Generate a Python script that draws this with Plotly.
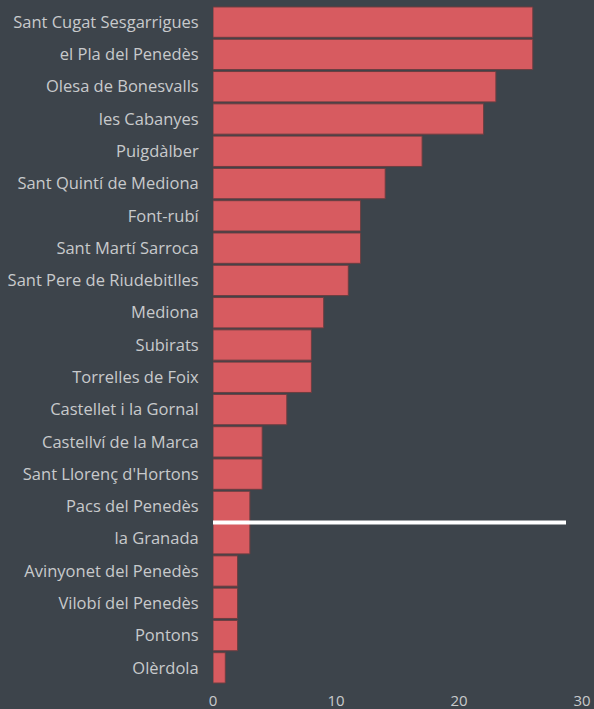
import plotly.graph_objects as go

municipis = ["Sant Cugat Sesgarrigues", "el Pla del Penedès", "Olesa de Bonesvalls",
             "les Cabanyes", "Puigdàlber", "Sant Quintí de Mediona", "Font-rubí",
             "Sant Martí Sarroca", "Sant Pere de Riudebitlles", "Mediona", "Subirats",
             "Torrelles de Foix", "Castellet i la Gornal", "Castellví de la Marca",
             "Sant Llorenç d'Hortons", "Pacs del Penedès", "la Granada",
             "Avinyonet del Penedès", "Vilobí del Penedès", "Pontons", "Olèrdola"]
valors = [26, 26, 23, 22, 17, 14, 12, 12, 11, 9, 8, 8, 6, 4, 4, 3, 3, 2, 2, 2, 1]

# white reference line between Pacs del Penedès and la Granada
linia_x = [0, 28.7]
linia_pos = 15.5

bg = "#3d444b"

fig = go.Figure()
fig.add_trace(go.Bar(x=valors, y=municipis, orientation="h",
                     marker=dict(color="#d75b60", line=dict(color="#6b3e40", width=1))))

fig.add_shape(type="line", xref="x", yref="y", x0=linia_x[0], x1=linia_x[1],
              y0=linia_pos, y1=linia_pos, line=dict(color="white", width=4))

fig.update_layout(
    width=594, height=709,
    paper_bgcolor=bg, plot_bgcolor=bg,
    margin=dict(l=213, r=12, t=6, b=25),
    bargap=0.06,
    showlegend=False,
    font=dict(family="Open Sans, sans-serif", color="#c8cacc", size=16.5),
    xaxis=dict(range=[0, 30], tickvals=[0, 10, 20, 30], showgrid=False, zeroline=False,
               showline=False, ticks="outside", ticklen=3, tickcolor=bg,
               automargin=False, tickfont=dict(size=15)),
    yaxis=dict(categoryorder="array", categoryarray=municipis, autorange="reversed",
               showgrid=False, ticks="outside", ticklen=10, tickcolor=bg,
               automargin=False),
)

fig.write_html("out.html", config={"displayModeBar": False},
               post_script="document.body.style.margin='0';")
